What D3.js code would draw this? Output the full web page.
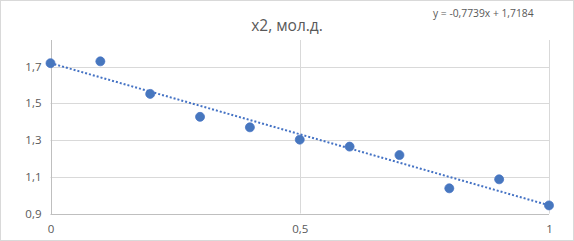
<!DOCTYPE html>
<html>
<head>
<meta charset="utf-8">
<script src="https://cdn.jsdelivr.net/npm/d3@7"></script>
<style>
  body { margin: 0; background: #fff; }
  text { font-family: "Open Sans", "Liberation Sans", sans-serif; fill: #595959; }
</style>
</head>
<body>
<div id="chart"></div>
<script>
const xValues = [0, 0.1, 0.2, 0.3, 0.4, 0.5, 0.6, 0.7, 0.8, 0.9, 1];
const yValues = [1.718, 1.728, 1.551, 1.426, 1.369, 1.302, 1.264, 1.218, 1.037, 1.086, 0.944];
const xTicks = [0, 0.5, 1];
const yTicks = [0.9, 1.1, 1.3, 1.5, 1.7];
const trend = {slope: -0.7739, intercept: 1.7184};
const titleText = "x2, мол.д.";
const eqText = "y = -0,7739x + 1,7184";

var width = 574,
    height = 241,
    margin = {top: 40, right: 25, bottom: 28, left: 50.5};

var svg = d3.select("#chart")
    .append("svg")
    .attr("width", width)
    .attr("height", height);

// outer border
svg.append("rect")
    .attr("x", 0.5).attr("y", 0.5)
    .attr("width", width - 1).attr("height", height - 1)
    .attr("fill", "#fff")
    .attr("stroke", "#D9D9D9");

var xScale = d3.scaleLinear().domain([0, 1]).range([margin.left, 549]);
var yScale = d3.scaleLinear().domain([0.9, 1.7]).range([213.5, 66.5]);
var fmt = d => d3.format(",.1~f")(d).replace(".", ",");

// horizontal gridlines
svg.append("g")
    .selectAll("line")
    .data(yTicks.slice(1))
    .enter().append("line")
    .attr("x1", margin.left).attr("x2", xScale(1))
    .attr("y1", d => Math.round(yScale(d)) + 0.5)
    .attr("y2", d => Math.round(yScale(d)) + 0.5)
    .attr("stroke", "#D9D9D9");

// vertical gridlines
svg.append("g")
    .selectAll("line")
    .data(xTicks.slice(1))
    .enter().append("line")
    .attr("x1", d => Math.round(xScale(d)) + 0.5)
    .attr("x2", d => Math.round(xScale(d)) + 0.5)
    .attr("y1", margin.top).attr("y2", yScale(0.9))
    .attr("stroke", "#D9D9D9");

// axes
var xAxis = d3.axisBottom(xScale).tickValues(xTicks).tickSize(0).tickPadding(10)
    .tickFormat(d => d3.format("~g")(d).replace(".", ","));
var yAxis = d3.axisLeft(yScale).tickValues(yTicks).tickSize(0).tickPadding(10)
    .tickFormat(fmt);

var gx = svg.append("g")
    .attr("transform", `translate(0,${Math.round(yScale(0.9)) + 0.5})`)
    .call(xAxis);
gx.select(".domain").remove();
gx.selectAll("text").attr("font-size", 11.5).style("fill", "#595959");

var gy = svg.append("g")
    .attr("transform", `translate(${Math.round(margin.left) + 0.5},0)`)
    .call(yAxis);
gy.select(".domain").remove();
gy.selectAll("text").attr("font-size", 11.5).style("fill", "#595959");

svg.append("line")
    .attr("x1", Math.round(margin.left) + 0.5).attr("x2", Math.round(margin.left) + 0.5)
    .attr("y1", margin.top).attr("y2", Math.round(yScale(0.9)) + 0.5)
    .attr("stroke", "#BFBFBF");
svg.append("line")
    .attr("x1", margin.left).attr("x2", xScale(1))
    .attr("y1", Math.round(yScale(0.9)) + 0.5).attr("y2", Math.round(yScale(0.9)) + 0.5)
    .attr("stroke", "#BFBFBF");

// trendline
svg.append("line")
    .attr("x1", xScale(0)).attr("y1", yScale(trend.intercept))
    .attr("x2", xScale(1)).attr("y2", yScale(trend.intercept + trend.slope))
    .attr("stroke", "#4472C4")
    .attr("stroke-width", 2)
    .attr("stroke-dasharray", "2,2");

// points
svg.append("g")
    .selectAll("circle")
    .data(xValues.map((x, i) => ({x: x, y: yValues[i]})))
    .enter().append("circle")
    .attr("cx", d => xScale(d.x))
    .attr("cy", d => yScale(d.y))
    .attr("r", 4.5)
    .attr("fill", "#4777BE")
    .attr("stroke", "#4472C4")
    .attr("stroke-width", 0.75);

// title
svg.append("text")
    .attr("x", width / 2)
    .attr("y", 31)
    .attr("text-anchor", "middle")
    .attr("font-size", 15.5)
    .text(titleText);

// equation
svg.append("text")
    .attr("x", 433)
    .attr("y", 17)
    .attr("font-size", 10.3)
    .text(eqText);
</script>
</body>
</html>
